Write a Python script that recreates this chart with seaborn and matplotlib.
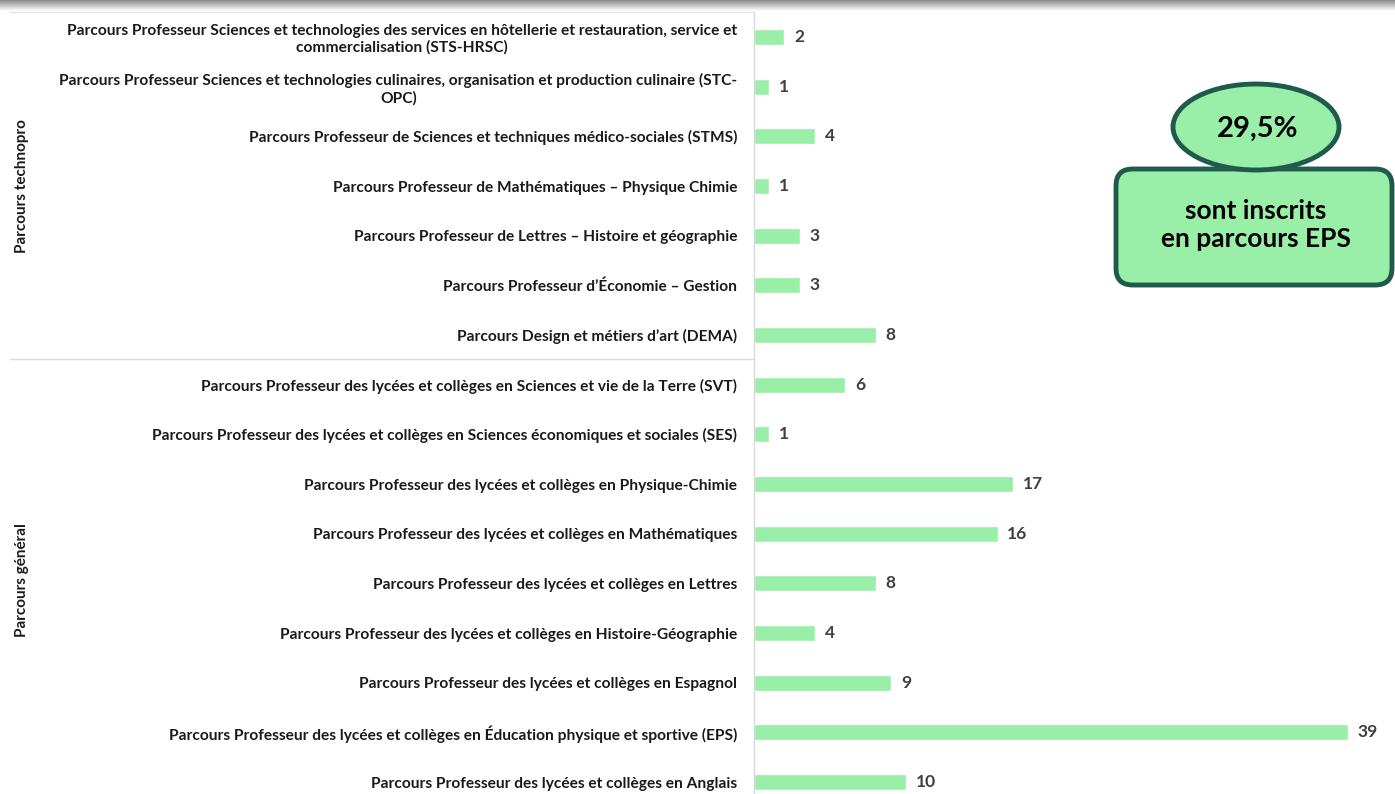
import numpy as np
import matplotlib
matplotlib.use('Agg')
import matplotlib.pyplot as plt
import seaborn as sns
from matplotlib.patches import Ellipse, FancyBboxPatch
from matplotlib.lines import Line2D

# Data (top to bottom)
labels = [
    "Parcours Professeur Sciences et technologies des services en hôtellerie et restauration, service et\ncommercialisation (STS-HRSC)",
    "Parcours Professeur Sciences et technologies culinaires, organisation et production culinaire (STC-\nOPC)",
    "Parcours Professeur de Sciences et techniques médico-sociales (STMS)",
    "Parcours Professeur de Mathématiques – Physique Chimie",
    "Parcours Professeur de Lettres – Histoire et géographie",
    "Parcours Professeur d’Économie – Gestion",
    "Parcours Design et métiers d’art (DEMA)",
    "Parcours Professeur des lycées et collèges en Sciences et vie de la Terre (SVT)",
    "Parcours Professeur des lycées et collèges en Sciences économiques et sociales (SES)",
    "Parcours Professeur des lycées et collèges en Physique-Chimie",
    "Parcours Professeur des lycées et collèges en Mathématiques",
    "Parcours Professeur des lycées et collèges en Lettres",
    "Parcours Professeur des lycées et collèges en Histoire-Géographie",
    "Parcours Professeur des lycées et collèges en Espagnol",
    "Parcours Professeur des lycées et collèges en Éducation physique et sportive (EPS)",
    "Parcours Professeur des lycées et collèges en Anglais",
]
values = [2, 1, 4, 1, 3, 3, 8, 6, 1, 17, 16, 8, 4, 9, 39, 10]
groups = ["Parcours technopro", "Parcours général"]
callout_pct = "29,5%"
callout_text = "sont inscrits\nen parcours EPS"

sns.set_style("white")
plt.rcParams['font.family'] = ['Lato', 'DejaVu Sans']

W, H = 1395, 794
fig = plt.figure(figsize=(W / 100, H / 100), dpi=100)

# axes: left edge at x=754px, top edge at 12px, bars spaced ~49.7px
left = 754 / W
top_px = 12.2
step = 49.67
ax = fig.add_axes([left, 0, 1 - left, (H - top_px) / H])

bar_color = "#99EEA8"
sns.barplot(x=values, y=labels, order=labels, color=bar_color, width=0.32,
            orient="h", ax=ax, saturation=1)
ax.set_xlim(0, (W - 754) / 15.23)
ax.set_ylim(-0.5 + (H - top_px) / step, -0.5)

ax.bar_label(ax.containers[0], padding=7, fontsize=12.5, fontweight='bold',
             color='#404040')

for s in ['top', 'right', 'bottom']:
    ax.spines[s].set_visible(False)
ax.spines['left'].set_color('#D9D9D9')
ax.spines['left'].set_linewidth(1)
ax.set_xticks([])
ax.set_xlabel("")
ax.set_ylabel("")
ax.tick_params(axis='y', length=0, pad=12)
for t in ax.get_yticklabels():
    t.set_fontsize(11.2)
    t.set_fontweight('bold')
    t.set_color('#1a1a1a')
    t.set_multialignment('center')

# group separators and labels
def fy(py):
    return 1 - py / H

fig.add_artist(Line2D([10 / W, left], [fy(359), fy(359)], color='#D9D9D9', lw=1))
fig.add_artist(Line2D([10 / W, left], [fy(12), fy(12)], color='#E6E6E6', lw=1))
fig.text(22 / W, fy(186), groups[0], rotation=90, ha='center', va='center',
         fontsize=11, fontweight='bold', color='#1a1a1a')
fig.text(22 / W, fy(580), groups[1], rotation=90, ha='center', va='center',
         fontsize=11, fontweight='bold', color='#1a1a1a')

# top shadow
sh = fig.add_axes([0, fy(11), 1, 11 / H])
grad = np.linspace(0, 1, 50).reshape(-1, 1)
sh.imshow(grad, aspect='auto', cmap='gray', vmin=-1.2, vmax=1, extent=[0, 1, 0, 1])
sh.axis('off')

# callout
edge = "#1E5B4B"
box = FancyBboxPatch((1116 / W, fy(285)), (1392 - 1116) / W, (285 - 169) / H,
                     boxstyle="round,pad=0,rounding_size=0.012",
                     transform=fig.transFigure, facecolor=bar_color,
                     edgecolor=edge, linewidth=3.5, mutation_aspect=W / H)
fig.add_artist(box)
ell = Ellipse((1256 / W, fy(127)), 166 / W, 86 / H, transform=fig.transFigure,
              facecolor=bar_color, edgecolor=edge, linewidth=3.5)
fig.add_artist(ell)
fig.text(1258 / W, fy(129), callout_pct, ha='center', va='center', fontsize=21,
         fontweight='bold', color='black')
fig.text(1256 / W, fy(225), callout_text, ha='center', va='center', fontsize=19,
         fontweight='bold', color='black', linespacing=1.2)

fig.savefig("out.png", dpi=100)
